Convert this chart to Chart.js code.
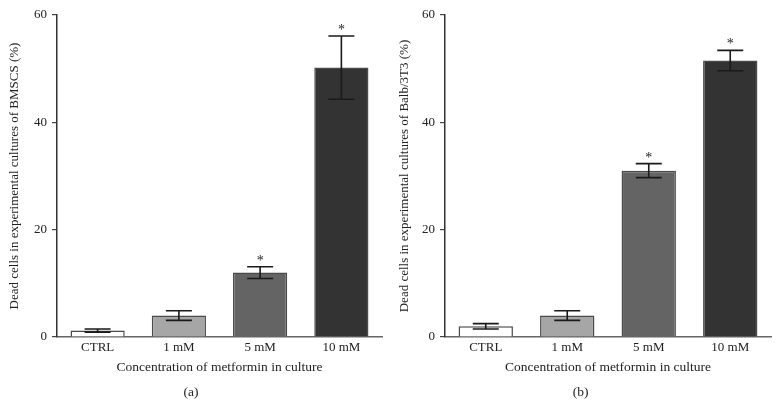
<!DOCTYPE html>
<html>
<head>
<meta charset="utf-8">
<script src="https://cdn.jsdelivr.net/npm/chart.js@4/dist/chart.umd.min.js"></script>
<style>
  html, body { margin: 0; padding: 0; background: #fff; }
  #wrap { position: relative; width: 778px; height: 407px; }
  canvas { position: absolute; top: 0; }
  #chartA { left: 0; }
  #chartB { left: 390px; }
</style>
</head>
<body>
<div id="wrap">
  <canvas id="chartA" width="390" height="407"></canvas>
  <canvas id="chartB" width="388" height="407"></canvas>
</div>
<script>
const categories = ["CTRL", "1 mM", "5 mM", "10 mM"];
const bmscValues = [1.2, 4.0, 12.0, 50.2];
const bmscErrors = [0.3, 0.9, 1.1, 5.9];
const bmscMarked = [false, false, true, true];
const balbValues = [2.0, 4.0, 31.0, 51.5];
const balbErrors = [0.5, 0.9, 1.3, 1.9];
const balbMarked = [false, false, true, true];
const yTicks = [0, 20, 40, 60];
const barColors = ["#ffffff", "#a6a6a6", "#646464", "#333333"];

const serif = "'Liberation Serif', 'DejaVu Serif', serif";

// error bars + asterisks, positioned through the chart's own scales
const errorBars = {
  id: "errorBars",
  afterDatasetsDraw(chart, args, opts) {
    const ctx = chart.ctx;
    const yScale = chart.scales.y;
    const meta = chart.getDatasetMeta(0);
    ctx.save();
    ctx.strokeStyle = "#1a1a1a";
    ctx.lineWidth = 1.6;
    meta.data.forEach((bar, i) => {
      const v = opts.values[i];
      const e = opts.errors[i];
      const yTop = yScale.getPixelForValue(v + e);
      const yBot = yScale.getPixelForValue(v - e);
      const x = bar.x;
      ctx.beginPath();
      ctx.moveTo(x, yTop);
      ctx.lineTo(x, yBot);
      ctx.moveTo(x - 13, yTop);
      ctx.lineTo(x + 13, yTop);
      ctx.moveTo(x - 13, yBot);
      ctx.lineTo(x + 13, yBot);
      ctx.stroke();
      if (opts.marked[i]) {
        ctx.fillStyle = "#222";
        ctx.font = "14px " + serif;
        ctx.textAlign = "center";
        ctx.textBaseline = "alphabetic";
        ctx.fillText("*", x, yTop - 2);
      }
    });
    ctx.restore();
  }
};

function makeChart(canvasId, values, errors, marked, yTitle, panel, yWidth, rightPad) {
  return new Chart(document.getElementById(canvasId), {
    type: "bar",
    data: {
      labels: categories,
      datasets: [
        {
          data: values,
          backgroundColor: barColors,
          borderColor: "#4a4a4a",
          borderWidth: 1.5,
          barPercentage: 0.667,
          categoryPercentage: 1.0
        }
      ]
    },
    options: {
      responsive: false,
      animation: false,
      layout: {
        padding: { top: 15, right: rightPad, bottom: 0, left: 0 }
      },
      plugins: {
        legend: { display: false },
        tooltip: { enabled: false },
        title: {
          display: true,
          position: "bottom",
          text: panel,
          color: "#222",
          font: { family: serif, size: 13.5, weight: "normal" },
          padding: { top: 3, bottom: 6 }
        },
        errorBars: { values: values, errors: errors, marked: marked }
      },
      scales: {
        x: {
          afterFit(scale) { scale.height = 44.8; },
          grid: { display: true, drawOnChartArea: false, drawTicks: false },
          border: { display: true, color: "#666", width: 1.5 },
          ticks: { color: "#222", padding: 3, font: { family: serif, size: 13 } },
          title: {
            display: true,
            text: "Concentration of metformin in culture",
            color: "#222",
            font: { family: serif, size: 13.5 },
            padding: { top: 0, bottom: 6 }
          }
        },
        y: {
          min: 0,
          max: 60,
          afterFit(scale) { scale.width = yWidth; },
          afterBuildTicks(scale) { scale.ticks = yTicks.map(v => ({ value: v })); },
          grid: { display: true, drawOnChartArea: false, drawTicks: true, tickLength: 5, color: "#444", lineWidth: 1.2 },
          border: { display: true, color: "#333", width: 1.5 },
          ticks: { color: "#222", padding: 5, font: { family: serif, size: 13 } },
          title: {
            display: true,
            text: yTitle,
            color: "#222",
            font: { family: serif, size: 13 },
            padding: { top: 7, bottom: 0 }
          }
        }
      }
    },
    plugins: [errorBars]
  });
}

makeChart("chartA", bmscValues, bmscErrors, bmscMarked,
  "Dead cells in experimental cultures of BMSCS (%)", "(a)", 57, 8);
makeChart("chartB", balbValues, balbErrors, balbMarked,
  "Dead cells in experimental cultures of Balb/3T3 (%)", "(b)", 55, 7);
</script>
</body>
</html>
